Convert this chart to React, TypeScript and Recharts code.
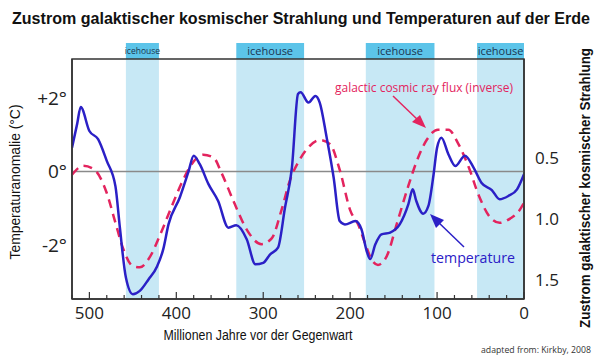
import React from 'react';
import {
  LineChart,
  Line,
  XAxis,
  YAxis,
  ReferenceArea,
  ReferenceLine,
  Label,
} from 'recharts';

// Millions of years before present
const tempAges = [
  520, 514, 510, 500, 490, 480, 470, 465, 458, 450, 442, 432, 422, 415, 409, 396, 386, 380, 373, 363,
  352, 340, 331, 319, 309, 300, 292, 283, 275, 267, 260, 257, 248, 240, 235, 227, 219, 212, 206, 194,
  187, 181, 177, 171, 164, 154, 143, 133, 128, 124, 116, 110, 104, 100, 95, 87, 79, 68, 58, 49,
  37, 28, 18, 8, 0,
];
// Temperature anomaly (°C)
const tempValues = [
  0.65, 1.3, 1.75, 1.1, 0.88, 0.29, -0.4, -1.5, -2.87, -3.32, -3.23, -2.92, -2.56, -2.1, -1.43, -0.7, 0, 0.43, 0.2, -0.34,
  -0.79, -1.52, -1.45, -1.83, -2.51, -2.47, -2.24, -2.06, -0.98, 0.11, 2.1, 2.15, 1.87, 2.05, 1.87, 0.92, -0.16, -1.34, -1.43, -1.34,
  -1.56, -2.15, -2.37, -1.97, -1.7, -1.65, -1.43, -0.88, -0.48, -0.79, -1.14, -0.93, -0.07, 0.65, 0.92, 0.47, 0.15, 0.43, 0.11, -0.3,
  -0.5, -0.75, -0.66, -0.48, -0.07,
];

const gcrAges = [
  520, 507, 494, 480, 470, 461, 450, 442, 430, 419, 407, 394, 380, 369, 357, 348, 334, 319, 302, 290,
  279, 269, 260, 252, 235, 223, 212, 200, 190, 183, 175, 168, 158, 146, 133, 124, 112, 99, 87, 76,
  64, 52, 41, 28, 16, 6, 0,
];
// Galactic cosmic ray flux (inverse scale)
const gcrValues = [
  0.64, 0.566, 0.6, 0.79, 1.035, 1.25, 1.39, 1.4, 1.31, 1.14, 0.93, 0.71, 0.53, 0.475, 0.5, 0.625, 0.86, 1.09, 1.21, 1.16,
  0.93, 0.68, 0.54, 0.45, 0.355, 0.39, 0.6, 0.93, 1.06, 1.2, 1.34, 1.38, 1.31, 1.035, 0.73, 0.54, 0.355, 0.27, 0.27, 0.38,
  0.57, 0.81, 0.97, 1.035, 1.0, 0.94, 0.87,
];

const icehouseStarts = [458, 331, 182, 54];
const icehouseEnds = [420, 253, 103, 0];

const xTicks = [520, 500, 480, 460, 440, 420, 400, 380, 360, 340, 320, 300, 280, 260, 240, 220, 200, 180, 160, 140, 120, 100, 80, 60, 40, 20, 0];
const leftTicks = [-2, 0, 2];
const rightTicks = [0.5, 1.0, 1.5];

const tempData = tempAges.map((age, i) => ({ age, temp: tempValues[i] }));
const gcrData = gcrAges.map((age, i) => ({ age, gcr: gcrValues[i] }));

const BLUE = '#2b20c6';
const RED = '#e3245e';
const BAND = '#c7e8f5';
const HEADER = '#5cc4e9';
const FONT = 'Liberation Sans, Arial, sans-serif';
const NUMFONT = 'Open Sans, sans-serif';

const XTick = (props: any) => {
  const { x, y, payload } = props;
  const v = payload.value as number;
  const major = v % 100 === 0;
  return (
    <g>
      <line x1={x} x2={x} y1={y} y2={y - (major ? 7 : 4)} stroke="#333" strokeWidth={1.2} />
      {major && (
        <text x={x} y={y + 20} textAnchor="middle" fontSize={17} fontFamily={NUMFONT} fill="#222">
          {v}
        </text>
      )}
    </g>
  );
};

export default function App() {
  return (
    <div style={{ position: 'absolute', left: 0, top: 0, width: 600, height: 362, background: '#fff', overflow: 'hidden' }}>
      <LineChart
        width={600}
        height={362}
        margin={{ top: 59, right: 16, bottom: 23, left: 12 }}
      >
        <XAxis
          type="number"
          dataKey="age"
          domain={[0, 520]}
          reversed
          allowDataOverflow
          ticks={xTicks}
          interval={0}
          tick={<XTick />}
          tickLine={false}
          tickSize={0}
          tickMargin={0}
          height={40}
          axisLine={{ stroke: '#333', strokeWidth: 1.5 }}
        />
        <YAxis
          yAxisId="left"
          type="number"
          domain={[-3.45, 3.05]}
          allowDataOverflow
          ticks={leftTicks}
          tickFormatter={(v: number) => (v > 0 ? `+${v}°` : `${v}°`)}
          tick={{ fontSize: 19, fill: '#222', fontFamily: NUMFONT }}
          tickLine={false}
          tickSize={0}
          tickMargin={5}
          width={60}
          axisLine={{ stroke: '#333', strokeWidth: 1.5 }}
        />
        <YAxis
          yAxisId="right"
          orientation="right"
          type="number"
          domain={[-0.31, 1.66]}
          reversed
          allowDataOverflow
          ticks={rightTicks}
          tickFormatter={(v: number) => v.toFixed(1)}
          tick={{ fontSize: 17, fill: '#222', fontFamily: NUMFONT }}
          tickLine={false}
          tickSize={0}
          tickMargin={11}
          width={60}
          axisLine={{ stroke: '#333', strokeWidth: 1.5 }}
        />
        {icehouseStarts.map((s, i) => (
          <ReferenceArea
            key={`band-${i}`}
            yAxisId="left"
            x1={s}
            x2={icehouseEnds[i]}
            y1={-3.45}
            y2={3.05}
            fill={BAND}
            fillOpacity={1}
            stroke="none"
            ifOverflow="visible"
          />
        ))}
        {icehouseStarts.map((s, i) => (
          <ReferenceArea
            key={`head-${i}`}
            yAxisId="left"
            x1={s}
            x2={icehouseEnds[i]}
            y1={3.05}
            y2={3.48}
            fill={HEADER}
            fillOpacity={1}
            stroke="none"
            ifOverflow="visible"
          >
            <Label
              value="icehouse"
              position="center"
              fill="#1b3550"
              fontSize={i === 0 ? 8.5 : 11}
              fontFamily={NUMFONT}
            />
          </ReferenceArea>
        ))}
        <ReferenceLine yAxisId="left" y={0} stroke="#8a8a8a" strokeWidth={1.5} />
        <Line
          yAxisId="right"
          data={gcrData}
          dataKey="gcr"
          type="monotone"
          stroke={RED}
          strokeWidth={2.5}
          strokeDasharray="9 6"
          dot={false}
          isAnimationActive={false}
        />
        <Line
          yAxisId="left"
          data={tempData}
          dataKey="temp"
          type="monotone"
          stroke={BLUE}
          strokeWidth={2.5}
          dot={false}
          isAnimationActive={false}
        />
        <ReferenceArea
          yAxisId="left"
          x1={520}
          x2={0}
          y1={-3.45}
          y2={3.05}
          fill="none"
          stroke="#333"
          strokeWidth={1.5}
          ifOverflow="visible"
        />
      </LineChart>
      <svg
        width={600}
        height={362}
        style={{ position: 'absolute', left: 0, top: 0, pointerEvents: 'none' }}
      >
        <text x={12} y={24} fontSize={16} fontWeight="bold" fontFamily={FONT} fill="#111" textLength={578} lengthAdjust="spacingAndGlyphs">
          Zustrom galaktischer kosmischer Strahlung und Temperaturen auf der Erde
        </text>
        <text
          transform="translate(20,182) rotate(-90)"
          textAnchor="middle"
          fontSize={14}
          fontFamily={FONT}
          fill="#111"
          textLength={155}
          lengthAdjust="spacingAndGlyphs"
        >
          Temperaturanomalie (°C)
        </text>
        <text
          transform="translate(590,188) rotate(-90)"
          textAnchor="middle"
          fontSize={14}
          fontWeight="bold"
          fontFamily={FONT}
          fill="#111"
          textLength={280}
          lengthAdjust="spacingAndGlyphs"
        >
          Zustrom galaktischer kosmischer Strahlung
        </text>
        <text x={258} y={340} textAnchor="middle" fontSize={14} fontFamily={FONT} fill="#111" textLength={189} lengthAdjust="spacingAndGlyphs">
          Millionen Jahre vor der Gegenwart
        </text>
        <text x={536} y={353} textAnchor="middle" fontSize={9} fontFamily={NUMFONT} fill="#333" textLength={110} lengthAdjust="spacingAndGlyphs">
          adapted from: Kirkby, 2008
        </text>
        <text x={424} y={92} textAnchor="middle" fontSize={12.5} fontFamily={NUMFONT} fill={RED} textLength={178} lengthAdjust="spacingAndGlyphs">
          galactic cosmic ray flux (inverse)
        </text>
        <line x1={393} y1={96} x2={419} y2={121} stroke={RED} strokeWidth={1.5} />
        <polygon points="426,128 412,122 420,115" fill={RED} />
        <text x={473} y={263} textAnchor="middle" fontSize={15} fontFamily={NUMFONT} fill={BLUE} textLength={84} lengthAdjust="spacingAndGlyphs">
          temperature
        </text>
        <line x1={464} y1={247} x2={436} y2={220} stroke={BLUE} strokeWidth={1.5} />
        <polygon points="430,214 444,220 436,228" fill={BLUE} />
      </svg>
    </div>
  );
}
